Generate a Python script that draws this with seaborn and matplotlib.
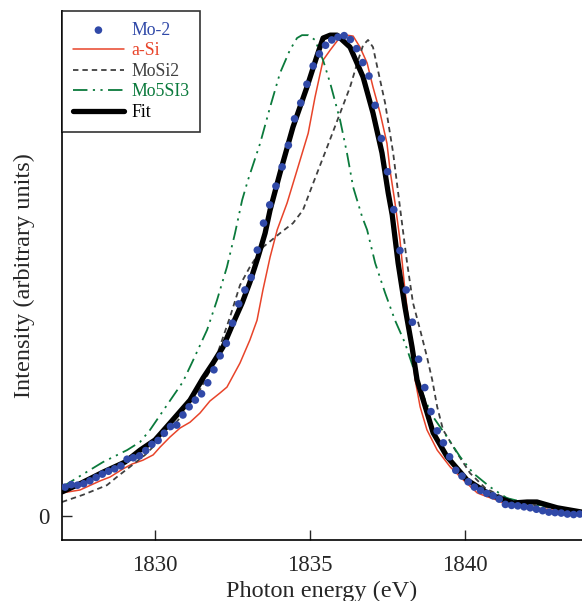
import numpy as np
import pandas as pd
import matplotlib
matplotlib.use('Agg')
import matplotlib.pyplot as plt
import seaborn as sns

# Mo-2 measured spectrum (dots)
mo2_energy = [1827.1, 1827.3, 1827.5, 1827.7, 1827.9, 1828.1, 1828.3, 1828.5, 1828.7, 1828.9,
              1829.1, 1829.3, 1829.5, 1829.7, 1829.9, 1830.1, 1830.3, 1830.5, 1830.7, 1830.9,
              1831.1, 1831.3, 1831.5, 1831.7, 1831.9, 1832.1, 1832.3, 1832.5, 1832.7, 1832.9,
              1833.1, 1833.3, 1833.5, 1833.7, 1833.9, 1834.1, 1834.3, 1834.5, 1834.7, 1834.9,
              1835.1, 1835.3, 1835.5, 1835.7, 1835.9, 1836.1, 1836.3, 1836.5, 1836.7, 1836.9,
              1837.1, 1837.3, 1837.5, 1837.7, 1837.9, 1838.1, 1838.3, 1838.5, 1838.7, 1838.9,
              1839.1, 1839.3, 1839.5, 1839.7, 1839.9, 1840.1, 1840.3, 1840.5, 1840.7, 1840.9,
              1841.1, 1841.3, 1841.5, 1841.7, 1841.9, 1842.1, 1842.3, 1842.5, 1842.7, 1842.9,
              1843.1, 1843.3, 1843.5, 1843.7]
mo2_int = [0.060, 0.065, 0.064, 0.067, 0.073, 0.080, 0.087, 0.093, 0.098, 0.104,
           0.118, 0.121, 0.125, 0.136, 0.149, 0.157, 0.172, 0.186, 0.189, 0.210,
           0.227, 0.241, 0.254, 0.277, 0.304, 0.333, 0.359, 0.401, 0.441, 0.470,
           0.496, 0.553, 0.609, 0.647, 0.686, 0.726, 0.771, 0.826, 0.859, 0.898,
           0.936, 0.961, 0.979, 0.990, 0.996, 0.999, 0.991, 0.972, 0.943, 0.915,
           0.854, 0.785, 0.716, 0.637, 0.552, 0.470, 0.403, 0.326, 0.267, 0.217,
           0.177, 0.152, 0.123, 0.095, 0.083, 0.071, 0.060, 0.053, 0.047, 0.042,
           0.035, 0.024, 0.022, 0.021, 0.019, 0.017, 0.014, 0.011, 0.008, 0.007,
           0.006, 0.004, 0.003, 0.004]

# a-Si reference
asi_energy = [1827.00, 1827.58, 1828.23, 1828.55, 1828.97, 1829.26, 1829.61, 1829.94, 1830.16, 1830.48,
              1830.81, 1831.13, 1831.45, 1831.77, 1832.10, 1832.32, 1832.74, 1833.06, 1833.29, 1833.48,
              1833.71, 1833.94, 1834.26, 1834.58, 1834.94, 1835.16, 1835.42, 1835.65, 1835.97, 1836.19,
              1836.39, 1836.61, 1836.84, 1837.03, 1837.26, 1837.48, 1837.58, 1837.74, 1837.90, 1838.06,
              1838.23, 1838.39, 1838.55, 1838.77, 1839.10, 1839.52, 1839.94, 1840.39, 1840.71, 1841.03,
              1841.35, 1842.10, 1843.06, 1843.77]
asi_int = [0.048, 0.054, 0.073, 0.081, 0.098, 0.108, 0.116, 0.127, 0.143, 0.164,
           0.183, 0.195, 0.214, 0.239, 0.256, 0.268, 0.318, 0.366, 0.407, 0.470,
           0.538, 0.595, 0.651, 0.719, 0.796, 0.871, 0.948, 0.969, 0.996, 1.000,
           0.998, 0.975, 0.942, 0.892, 0.838, 0.775, 0.719, 0.651, 0.574, 0.470,
           0.376, 0.283, 0.227, 0.179, 0.137, 0.102, 0.075, 0.048, 0.040, 0.033,
           0.023, 0.019, 0.010, 0.006]

# MoSi2 reference
mosi2_energy = [1827.00, 1827.68, 1828.45, 1828.77, 1829.19, 1829.68, 1830.16, 1830.81, 1831.45, 1831.94,
                1832.42, 1832.74, 1833.06, 1833.48, 1834.03, 1834.45, 1834.77, 1835.10, 1835.55, 1835.97,
                1836.29, 1836.55, 1836.71, 1836.87, 1837.03, 1837.19, 1837.42, 1837.68, 1837.90, 1838.13,
                1838.32, 1838.55, 1838.77, 1838.94, 1839.10, 1839.29, 1839.74, 1840.16, 1840.65, 1841.13,
                1841.77, 1842.74, 1843.77]
mosi2_int = [0.029, 0.044, 0.064, 0.081, 0.102, 0.127, 0.158, 0.204, 0.262, 0.324,
             0.414, 0.480, 0.518, 0.559, 0.588, 0.609, 0.636, 0.692, 0.767, 0.838,
             0.892, 0.948, 0.979, 0.990, 0.975, 0.927, 0.859, 0.755, 0.642, 0.526,
             0.443, 0.387, 0.331, 0.283, 0.227, 0.179, 0.131, 0.089, 0.058, 0.042,
             0.027, 0.017, 0.008]

# Mo5Si3 reference
mo5si3_energy = [1827.00, 1827.58, 1828.32, 1829.10, 1829.52, 1829.84, 1830.39, 1830.90, 1831.23, 1831.68,
                 1832.00, 1832.32, 1832.58, 1832.81, 1833.00, 1833.39, 1833.71, 1834.03, 1834.35, 1834.58,
                 1834.74, 1834.94, 1835.16, 1835.42, 1835.65, 1835.97, 1836.19, 1836.39, 1836.68, 1836.84,
                 1837.10, 1837.42, 1837.74, 1838.06, 1838.32, 1838.71, 1838.97, 1839.42, 1839.84, 1840.26,
                 1840.81, 1841.35, 1842.00, 1842.74, 1843.77]
mo5si3_int = [0.060, 0.083, 0.112, 0.137, 0.154, 0.179, 0.231, 0.279, 0.324, 0.387,
              0.449, 0.518, 0.588, 0.657, 0.699, 0.775, 0.850, 0.921, 0.969, 0.994,
              1.000, 1.000, 0.990, 0.948, 0.900, 0.823, 0.755, 0.684, 0.622, 0.595,
              0.526, 0.464, 0.407, 0.360, 0.310, 0.241, 0.206, 0.164, 0.123, 0.089,
              0.060, 0.037, 0.027, 0.019, 0.010]

# Fit
fit_energy = [1827.00, 1827.58, 1828.32, 1829.03, 1829.52, 1830.00, 1830.48, 1831.13, 1831.55, 1831.87,
              1832.19, 1832.52, 1832.81, 1833.06, 1833.32, 1833.55, 1833.71, 1834.03, 1834.45, 1834.90,
              1835.23, 1835.42, 1835.65, 1835.87, 1836.29, 1836.71, 1837.03, 1837.32, 1837.52, 1837.65,
              1837.84, 1838.06, 1838.29, 1838.45, 1838.65, 1838.97, 1839.42, 1840.06, 1840.81, 1841.55,
              1842.00, 1842.32, 1842.97, 1843.77]
fit_int = [0.050, 0.067, 0.091, 0.112, 0.137, 0.158, 0.193, 0.241, 0.287, 0.318,
           0.351, 0.401, 0.443, 0.486, 0.538, 0.588, 0.636, 0.713, 0.809, 0.892,
           0.958, 0.994, 1.000, 1.000, 0.975, 0.913, 0.838, 0.755, 0.672, 0.626,
           0.526, 0.435, 0.351, 0.283, 0.241, 0.173, 0.123, 0.075, 0.044, 0.027,
           0.029, 0.029, 0.017, 0.008]

blue = '#3049a8'
red = '#e8442a'
gray = '#404040'
green = '#0b7a3c'

sns.set_style('ticks')
plt.rcParams['font.family'] = ['Liberation Serif', 'DejaVu Serif']

fig = plt.figure(figsize=(5.82, 6.01), dpi=100)
ax = fig.add_axes([0.1065, 0.1015, 0.8935, 0.880])

sns.scatterplot(x=mo2_energy, y=mo2_int, ax=ax, color=blue, s=30,
                edgecolor='none', label='Mo-2', zorder=5)
sns.lineplot(x=asi_energy, y=asi_int, ax=ax, color=red, lw=1.1,
             label='a-Si', estimator=None, sort=False)
sns.lineplot(x=mosi2_energy, y=mosi2_int, ax=ax, color=gray, lw=1.3,
             label='MoSi2', estimator=None, sort=False)
ax.lines[-1].set_dashes([3, 2.2])
sns.lineplot(x=mo5si3_energy, y=mo5si3_int, ax=ax, color=green, lw=1.3,
             label='Mo5SI3', estimator=None, sort=False)
ax.lines[-1].set_dashes([8, 3, 1.2, 3, 1.2, 3])
sns.lineplot(x=fit_energy, y=fit_int, ax=ax, color='black', lw=3.8,
             label='Fit', estimator=None, sort=False, zorder=4)

ax.set_xlim(1827, 1843.77)
ax.set_ylim(-0.050, 1.050)
ax.set_xticks([1830, 1835, 1840])
ax.set_yticks([0])
ax.tick_params(direction='in', length=7, width=1, labelsize=16.5, pad=11)
ax.tick_params(axis='y', pad=9)
for s in ['top', 'right']:
    ax.spines[s].set_visible(False)
for s in ['left', 'bottom']:
    ax.spines[s].set_linewidth(1.2)
    ax.spines[s].set_color('black')

ax.set_xlabel('Photon energy (eV)', fontsize=17.5, labelpad=3)
ax.set_ylabel('Intensity (arbitrary units)', fontsize=17.5, labelpad=2)

leg = ax.legend(loc='upper left', bbox_to_anchor=(0.0, 1.0), borderaxespad=0,
                fontsize=12.8, frameon=True, fancybox=False, edgecolor='black',
                handlelength=2.9, handletextpad=0.4, labelspacing=0.2,
                scatterpoints=1, borderpad=0.6)
leg.get_frame().set_linewidth(1.2)
for txt, c in zip(leg.get_texts(), [blue, red, gray, green, 'black']):
    txt.set_color(c)

fig.savefig('out.png', dpi=100)
